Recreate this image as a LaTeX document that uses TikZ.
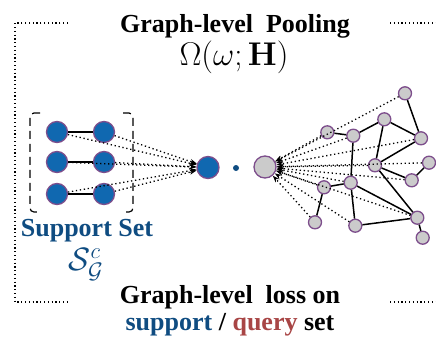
\documentclass[tikz,border=0pt]{standalone}
\usepackage[no-math]{fontspec}
\usepackage{graphicx}
\setmainfont{Liberation Serif}
\usetikzlibrary{arrows.meta}
\definecolor{nblue}{HTML}{1068B0}
\definecolor{nborder}{HTML}{7D4E8C}
\definecolor{ngray}{HTML}{CBCBCB}
\definecolor{tblue}{HTML}{0F4C81}
\definecolor{tred}{HTML}{A84545}
\begin{document}
\begin{tikzpicture}[x=1pt,y=-1pt,
  bnode/.style={circle,fill=nblue,draw=nborder,line width=1.3pt,minimum size=21pt,inner sep=0pt},
  gnode/.style={circle,fill=ngray,draw=nborder,line width=1.3pt,minimum size=13pt,inner sep=0pt},
  gbig/.style={circle,fill=ngray,draw=nborder,line width=1.3pt,minimum size=22pt,inner sep=0pt},
  edge/.style={line width=1.5pt,black},
  dots/.style={line width=1.3pt,dash pattern=on 1.3pt off 2.7pt},
  arr/.style={dots,-{Stealth[length=7pt,width=5pt]}},
  frame/.style={line width=1.2pt,dash pattern=on 1.2pt off 2.6pt},
  bracket/.style={line width=1.2pt,dash pattern=on 8pt off 5pt,rounded corners=4pt},
  big/.style={inner sep=0pt,font=\fontsize{24}{28}\selectfont},
  bigb/.style={inner sep=0pt,font=\bfseries\fontsize{26}{28}\selectfont}
]
\useasboundingbox (0,0) rectangle (436,338);
% frame
\coordinate (fa) at (68,23);
\coordinate (fb) at (15,23);
\coordinate (fc) at (15,302);
\coordinate (fd) at (68,302);
\coordinate (fe) at (390,23);
\coordinate (ff) at (436,23);
\coordinate (fg) at (390,302);
\coordinate (fh) at (436,302);
\draw[frame] (fa) -- (fb) -- (fc) -- (fd);
\draw[frame] (fe) -- (ff);
\draw[frame] (fg) -- (fh);
% bracket box
\coordinate (ba) at (40,113);
\coordinate (bb) at (30,113);
\coordinate (bc) at (30,212);
\coordinate (bd) at (40,212);
\coordinate (be) at (123,113);
\coordinate (bf) at (133,113);
\coordinate (bg) at (133,212);
\coordinate (bh) at (123,212);
\draw[bracket] (ba) -- (bb) -- (bc) -- (bd);
\draw[bracket] (be) -- (bf) -- (bg) -- (bh);
% support nodes
\node[bnode] (l1) at (57,132) {};
\node[bnode] (r1) at (104,132) {};
\node[bnode] (l2) at (57,162) {};
\node[bnode] (r2) at (104,162) {};
\node[bnode] (l3) at (57,194) {};
\node[bnode] (r3) at (104,194) {};
\node[bnode,minimum size=22pt] (B) at (208,167.5) {};
\node[circle,fill=tblue,minimum size=6pt,inner sep=0pt] (dot) at (236,168) {};
\node[gbig] (G) at (265,167) {};
\draw[edge] (l1) -- (r1);
\draw[edge] (l2) -- (r2);
\draw[edge] (l3) -- (r3);
\foreach \n in {l1,r1,l2,r2,l3,r3} \draw[arr] (\n) -- (B);
% query graph
\node[gnode] (n1) at (405,93.3) {};
\node[gnode] (n2) at (384.3,119.3) {};
\node[gnode] (n3) at (327.3,132.3) {};
\node[gnode] (n4) at (353.3,135.7) {};
\node[gnode] (n5) at (421,138.3) {};
\node[gnode] (n6) at (375,165.3) {};
\node[gnode] (n7) at (429,162.7) {};
\node[gnode] (n8) at (411.7,180.3) {};
\node[gnode] (n9) at (350.7,182.7) {};
\node[gnode] (n10) at (324,187.3) {};
\node[gnode] (n11) at (417.3,217.7) {};
\node[gnode] (n12) at (315,222.3) {};
\node[gnode] (n13) at (355.3,225.7) {};
\node[gnode] (n14) at (422.7,237.7) {};
\foreach \a/\b in {n1/n5,n2/n5,n2/n4,n3/n4,n2/n6,n5/n6,n4/n9,n6/n8,n7/n8,n6/n11,n9/n10,n9/n11,n9/n13,n10/n12,n13/n11,n11/n14}
  \draw[edge] (\a) -- (\b);
\foreach \n in {n1,n3,n4,n5,n6,n7,n8,n9,n10,n11,n12,n13}
  \draw[arr] (\n) -- (G);
% texts
\node[bigb,anchor=base] (t1) at (235,32) {Graph-level\ \ Pooling};
\node[big,anchor=base] (t2) at (234,65) {\scalebox{1.32}{$\Omega(\omega;\mathbf{H})$}};
\node[bigb,anchor=base,text=tblue] (ss) at (87,236) {Support Set};
\node[big,text=tblue,anchor=base] (sg) at (86,270) {\scalebox{1.3}{$\mathcal{S}_{\mathcal{G}}^{c}$}};
\node[bigb,anchor=base] (t3) at (230,303) {Graph-level\ \ loss on};
\node[bigb,anchor=base] (t4) at (230,330) {\textcolor{tblue}{support} / \textcolor{tred}{query} set};
\end{tikzpicture}
\end{document}
